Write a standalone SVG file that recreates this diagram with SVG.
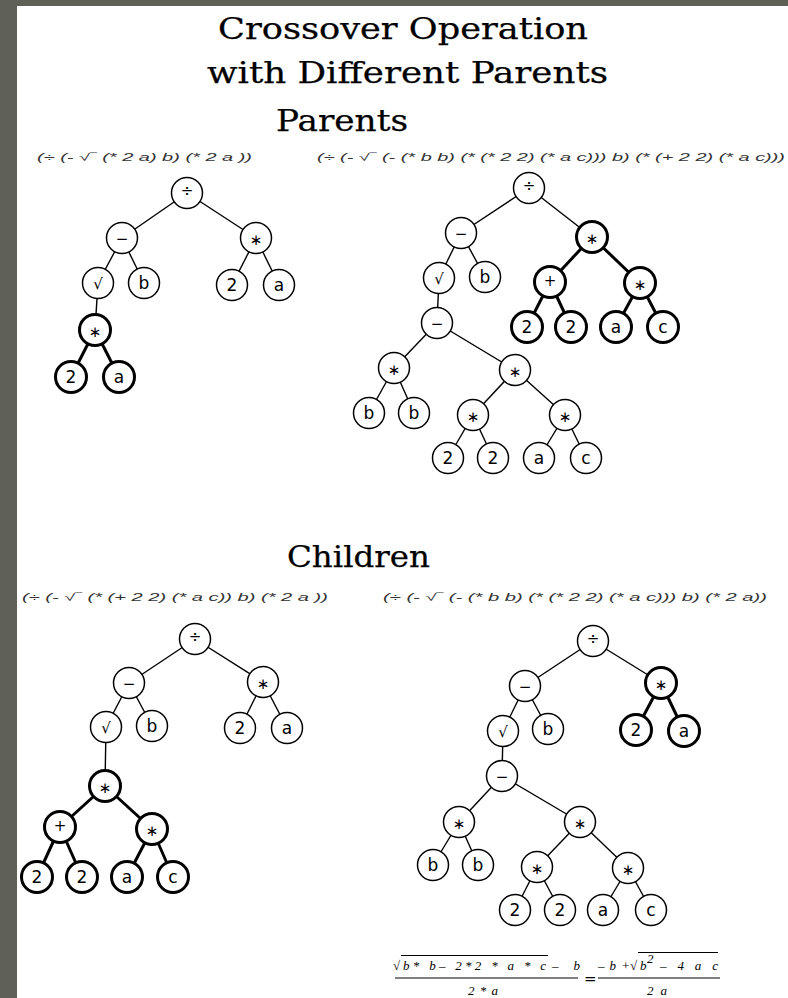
<svg xmlns="http://www.w3.org/2000/svg" width="788" height="998" viewBox="0 0 788 998">
<style>
.e{stroke:#000;stroke-width:1.4;fill:none}
.eb{stroke:#000;stroke-width:3;fill:none}
.n circle{fill:#fff;stroke:#000;stroke-width:1.5}
.b circle{stroke-width:3}
.n text{font-family:"DejaVu Sans",sans-serif;font-size:17px;text-anchor:middle;fill:#000}
.n text.o{font-size:15px}
.t{font-family:"DejaVu Serif","Liberation Serif",serif;font-size:29px;fill:#000;stroke:#000;stroke-width:0.25}
.f{font-family:"Liberation Sans",sans-serif;font-style:italic;font-size:10px;fill:#333}
.q{font-family:"Liberation Serif",serif;font-style:italic;font-size:13px;fill:#000}
</style>
<rect x="0" y="0" width="788" height="998" fill="#fff"/>
<rect x="0" y="0" width="788" height="6" fill="#5f6156"/>
<rect x="0" y="0" width="17" height="998" fill="#5f6156"/>

<g id="titles">
<text class="t" x="218" y="39" textLength="370" lengthAdjust="spacingAndGlyphs">Crossover Operation</text>
<text class="t" x="207" y="83" textLength="401" lengthAdjust="spacingAndGlyphs">with Different Parents</text>
<text class="t" x="276" y="131" textLength="132" lengthAdjust="spacingAndGlyphs">Parents</text>
<text class="t" x="287" y="567" textLength="143" lengthAdjust="spacingAndGlyphs">Children</text>
</g>

<g id="expressions">
<text class="f" x="37" y="161" textLength="215" lengthAdjust="spacingAndGlyphs">(÷ (- √‾ (* 2 a) b) (* 2 a ))</text>
<text class="f" x="317" y="161" textLength="468" lengthAdjust="spacingAndGlyphs">(÷ (- √‾ (- (* b b) (* (* 2 2) (* a c))) b) (* (+ 2 2) (* a c)))</text>
<text class="f" x="22" y="601" textLength="306" lengthAdjust="spacingAndGlyphs">(÷ (- √‾ (* (+ 2 2) (* a c)) b) (* 2 a ))</text>
<text class="f" x="383" y="601" textLength="384" lengthAdjust="spacingAndGlyphs">(÷ (- √‾ (- (* b b) (* (* 2 2) (* a c))) b) (* 2 a))</text>
</g>

<g id="connectors">
<!-- parent 1 -->
<line class="e" x1="187" y1="193" x2="122" y2="238"/>
<line class="e" x1="187" y1="193" x2="256" y2="238"/>
<line class="e" x1="122" y1="238" x2="98" y2="283"/>
<line class="e" x1="122" y1="238" x2="144" y2="283"/>
<line class="e" x1="256" y1="238" x2="232" y2="285"/>
<line class="e" x1="256" y1="238" x2="279" y2="285"/>
<line class="e" x1="98" y1="283" x2="95" y2="330"/>
<line class="eb" x1="95" y1="330" x2="71" y2="377"/>
<line class="eb" x1="95" y1="330" x2="119" y2="377"/>
<!-- parent 2 -->
<line class="e" x1="529" y1="188" x2="461" y2="233"/>
<line class="e" x1="529" y1="188" x2="592" y2="237"/>
<line class="e" x1="461" y1="233" x2="439" y2="278"/>
<line class="e" x1="461" y1="233" x2="485" y2="277"/>
<line class="eb" x1="592" y1="237" x2="550" y2="282"/>
<line class="eb" x1="592" y1="237" x2="640" y2="283"/>
<line class="eb" x1="550" y1="282" x2="527" y2="327"/>
<line class="eb" x1="550" y1="282" x2="571" y2="327"/>
<line class="eb" x1="640" y1="283" x2="616" y2="327"/>
<line class="eb" x1="640" y1="283" x2="663" y2="327"/>
<line class="e" x1="439" y1="278" x2="437" y2="323"/>
<line class="e" x1="437" y1="323" x2="394" y2="368"/>
<line class="e" x1="437" y1="323" x2="515" y2="370"/>
<line class="e" x1="394" y1="368" x2="369" y2="413"/>
<line class="e" x1="394" y1="368" x2="414" y2="413"/>
<line class="e" x1="515" y1="370" x2="473" y2="415"/>
<line class="e" x1="515" y1="370" x2="565" y2="415"/>
<line class="e" x1="473" y1="415" x2="448" y2="458"/>
<line class="e" x1="473" y1="415" x2="493" y2="458"/>
<line class="e" x1="565" y1="415" x2="539" y2="458"/>
<line class="e" x1="565" y1="415" x2="586" y2="458"/>
<!-- child 1 -->
<line class="e" x1="195" y1="639" x2="129" y2="683"/>
<line class="e" x1="195" y1="639" x2="263" y2="682"/>
<line class="e" x1="129" y1="683" x2="106" y2="727"/>
<line class="e" x1="129" y1="683" x2="152" y2="726"/>
<line class="e" x1="263" y1="682" x2="240" y2="728"/>
<line class="e" x1="263" y1="682" x2="287" y2="728"/>
<line class="e" x1="106" y1="727" x2="105" y2="786"/>
<line class="eb" x1="105" y1="786" x2="60" y2="827"/>
<line class="eb" x1="105" y1="786" x2="152" y2="829"/>
<line class="eb" x1="60" y1="827" x2="37" y2="877"/>
<line class="eb" x1="60" y1="827" x2="82" y2="877"/>
<line class="eb" x1="152" y1="829" x2="127" y2="877"/>
<line class="eb" x1="152" y1="829" x2="173" y2="877"/>
<!-- child 2 -->
<line class="e" x1="593" y1="641" x2="525" y2="686"/>
<line class="e" x1="593" y1="641" x2="661" y2="683"/>
<line class="e" x1="525" y1="686" x2="503" y2="731"/>
<line class="e" x1="525" y1="686" x2="548" y2="729"/>
<line class="eb" x1="661" y1="683" x2="636" y2="730"/>
<line class="eb" x1="661" y1="683" x2="684" y2="731"/>
<line class="e" x1="503" y1="731" x2="502" y2="776"/>
<line class="e" x1="502" y1="776" x2="459" y2="822"/>
<line class="e" x1="502" y1="776" x2="580" y2="822"/>
<line class="e" x1="459" y1="822" x2="433" y2="865"/>
<line class="e" x1="459" y1="822" x2="478" y2="865"/>
<line class="e" x1="580" y1="822" x2="537" y2="867"/>
<line class="e" x1="580" y1="822" x2="628" y2="868"/>
<line class="e" x1="537" y1="867" x2="515" y2="910"/>
<line class="e" x1="537" y1="867" x2="560" y2="910"/>
<line class="e" x1="628" y1="868" x2="603" y2="910"/>
<line class="e" x1="628" y1="868" x2="651" y2="910"/>
</g>

<!-- parent 1 nodes -->
<g id="p1_div" class="n"><circle cx="187" cy="193" r="15.5"/><text class="o" x="187" y="196">÷</text></g>
<g id="p1_sub" class="n"><circle cx="122" cy="238" r="15.5"/><text class="o" x="122" y="244">−</text></g>
<g id="p1_mul" class="n"><circle cx="256" cy="238" r="15.5"/><text class="o" x="256" y="245">∗</text></g>
<g id="p1_sqrt" class="n"><circle cx="98" cy="283" r="15.5"/><text class="o" x="98" y="289">√</text></g>
<g id="p1_b" class="n"><circle cx="144" cy="283" r="15.5"/><text x="144" y="289">b</text></g>
<g id="p1_2" class="n"><circle cx="232" cy="285" r="15.5"/><text x="232" y="291">2</text></g>
<g id="p1_a" class="n"><circle cx="279" cy="285" r="15.5"/><text x="279" y="291">a</text></g>
<g id="p1_mulB" class="n b"><circle cx="95" cy="330" r="15.5"/><text class="o" x="95" y="337">∗</text></g>
<g id="p1_2B" class="n b"><circle cx="71" cy="377" r="15.5"/><text x="71" y="383">2</text></g>
<g id="p1_aB" class="n b"><circle cx="119" cy="377" r="15.5"/><text x="119" y="383">a</text></g>

<!-- parent 2 nodes -->
<g id="p2_div" class="n"><circle cx="529" cy="188" r="15.5"/><text class="o" x="529" y="191">÷</text></g>
<g id="p2_sub" class="n"><circle cx="461" cy="233" r="15.5"/><text class="o" x="461" y="239">−</text></g>
<g id="p2_mulB" class="n b"><circle cx="592" cy="237" r="15.5"/><text class="o" x="592" y="244">∗</text></g>
<g id="p2_sqrt" class="n"><circle cx="439" cy="278" r="15.5"/><text class="o" x="439" y="284">√</text></g>
<g id="p2_b" class="n"><circle cx="485" cy="277" r="15.5"/><text x="485" y="283">b</text></g>
<g id="p2_plusB" class="n b"><circle cx="550" cy="282" r="15.5"/><text class="o" x="550" y="286">+</text></g>
<g id="p2_mulB2" class="n b"><circle cx="640" cy="283" r="15.5"/><text class="o" x="640" y="290">∗</text></g>
<g id="p2_2B1" class="n b"><circle cx="527" cy="327" r="15.5"/><text x="527" y="333">2</text></g>
<g id="p2_2B2" class="n b"><circle cx="571" cy="327" r="15.5"/><text x="571" y="333">2</text></g>
<g id="p2_aB" class="n b"><circle cx="616" cy="327" r="15.5"/><text x="616" y="333">a</text></g>
<g id="p2_cB" class="n b"><circle cx="663" cy="327" r="15.5"/><text x="663" y="333">c</text></g>
<g id="p2_sub2" class="n"><circle cx="437" cy="323" r="15.5"/><text class="o" x="437" y="329">−</text></g>
<g id="p2_mul1" class="n"><circle cx="394" cy="368" r="15.5"/><text class="o" x="394" y="375">∗</text></g>
<g id="p2_mul2" class="n"><circle cx="515" cy="370" r="15.5"/><text class="o" x="515" y="377">∗</text></g>
<g id="p2_b1" class="n"><circle cx="369" cy="413" r="15.5"/><text x="369" y="419">b</text></g>
<g id="p2_b2" class="n"><circle cx="414" cy="413" r="15.5"/><text x="414" y="419">b</text></g>
<g id="p2_mul3" class="n"><circle cx="473" cy="415" r="15.5"/><text class="o" x="473" y="422">∗</text></g>
<g id="p2_mul4" class="n"><circle cx="565" cy="415" r="15.5"/><text class="o" x="565" y="422">∗</text></g>
<g id="p2_2a" class="n"><circle cx="448" cy="458" r="15.5"/><text x="448" y="464">2</text></g>
<g id="p2_2b" class="n"><circle cx="493" cy="458" r="15.5"/><text x="493" y="464">2</text></g>
<g id="p2_a" class="n"><circle cx="539" cy="458" r="15.5"/><text x="539" y="464">a</text></g>
<g id="p2_c" class="n"><circle cx="586" cy="458" r="15.5"/><text x="586" y="464">c</text></g>

<!-- child 1 nodes -->
<g id="c1_div" class="n"><circle cx="195" cy="639" r="15.5"/><text class="o" x="195" y="642">÷</text></g>
<g id="c1_sub" class="n"><circle cx="129" cy="683" r="15.5"/><text class="o" x="129" y="689">−</text></g>
<g id="c1_mul" class="n"><circle cx="263" cy="682" r="15.5"/><text class="o" x="263" y="689">∗</text></g>
<g id="c1_sqrt" class="n"><circle cx="106" cy="727" r="15.5"/><text class="o" x="106" y="733">√</text></g>
<g id="c1_b" class="n"><circle cx="152" cy="726" r="15.5"/><text x="152" y="732">b</text></g>
<g id="c1_2" class="n"><circle cx="240" cy="728" r="15.5"/><text x="240" y="734">2</text></g>
<g id="c1_a" class="n"><circle cx="287" cy="728" r="15.5"/><text x="287" y="734">a</text></g>
<g id="c1_mulB" class="n b"><circle cx="105" cy="786" r="15.5"/><text class="o" x="105" y="793">∗</text></g>
<g id="c1_plusB" class="n b"><circle cx="60" cy="827" r="15.5"/><text class="o" x="60" y="831">+</text></g>
<g id="c1_mulB2" class="n b"><circle cx="152" cy="829" r="15.5"/><text class="o" x="152" y="836">∗</text></g>
<g id="c1_2B1" class="n b"><circle cx="37" cy="877" r="15.5"/><text x="37" y="883">2</text></g>
<g id="c1_2B2" class="n b"><circle cx="82" cy="877" r="15.5"/><text x="82" y="883">2</text></g>
<g id="c1_aB" class="n b"><circle cx="127" cy="877" r="15.5"/><text x="127" y="883">a</text></g>
<g id="c1_cB" class="n b"><circle cx="173" cy="877" r="15.5"/><text x="173" y="883">c</text></g>

<!-- child 2 nodes -->
<g id="c2_div" class="n"><circle cx="593" cy="641" r="15.5"/><text class="o" x="593" y="644">÷</text></g>
<g id="c2_sub" class="n"><circle cx="525" cy="686" r="15.5"/><text class="o" x="525" y="692">−</text></g>
<g id="c2_mulB" class="n b"><circle cx="661" cy="683" r="15.5"/><text class="o" x="661" y="690">∗</text></g>
<g id="c2_sqrt" class="n"><circle cx="503" cy="731" r="15.5"/><text class="o" x="503" y="737">√</text></g>
<g id="c2_b" class="n"><circle cx="548" cy="729" r="15.5"/><text x="548" y="735">b</text></g>
<g id="c2_2B" class="n b"><circle cx="636" cy="730" r="15.5"/><text x="636" y="736">2</text></g>
<g id="c2_aB" class="n b"><circle cx="684" cy="731" r="15.5"/><text x="684" y="737">a</text></g>
<g id="c2_sub2" class="n"><circle cx="502" cy="776" r="15.5"/><text class="o" x="502" y="782">−</text></g>
<g id="c2_mul1" class="n"><circle cx="459" cy="822" r="15.5"/><text class="o" x="459" y="829">∗</text></g>
<g id="c2_mul2" class="n"><circle cx="580" cy="822" r="15.5"/><text class="o" x="580" y="829">∗</text></g>
<g id="c2_b1" class="n"><circle cx="433" cy="865" r="15.5"/><text x="433" y="871">b</text></g>
<g id="c2_b2" class="n"><circle cx="478" cy="865" r="15.5"/><text x="478" y="871">b</text></g>
<g id="c2_mul3" class="n"><circle cx="537" cy="867" r="15.5"/><text class="o" x="537" y="874">∗</text></g>
<g id="c2_mul4" class="n"><circle cx="628" cy="868" r="15.5"/><text class="o" x="628" y="875">∗</text></g>
<g id="c2_2a" class="n"><circle cx="515" cy="910" r="15.5"/><text x="515" y="916">2</text></g>
<g id="c2_2b" class="n"><circle cx="560" cy="910" r="15.5"/><text x="560" y="916">2</text></g>
<g id="c2_a" class="n"><circle cx="603" cy="910" r="15.5"/><text x="603" y="916">a</text></g>
<g id="c2_c" class="n"><circle cx="651" cy="910" r="15.5"/><text x="651" y="916">c</text></g>

<g id="equation">
<text class="q" x="393" y="970" font-style="normal">√</text>
<line x1="401" y1="955.5" x2="548" y2="955.5" stroke="#000" stroke-width="1"/>
<text class="q" x="403" y="970" textLength="143" lengthAdjust="spacing">b* b– 2*2 * a * c</text>
<text class="q" x="552" y="970" textLength="28" lengthAdjust="spacing">– b</text>
<line x1="395" y1="978" x2="578" y2="978" stroke="#000" stroke-width="1.2"/>
<text class="q" x="468" y="995" textLength="30" lengthAdjust="spacing">2 * a</text>
<text x="584" y="984" font-family="DejaVu Sans, sans-serif" font-size="15">=</text>
<text class="q" x="598" y="970" textLength="32" lengthAdjust="spacing">– b +</text>
<text class="q" x="630" y="970" font-style="normal">√</text>
<line x1="638" y1="952.5" x2="718" y2="952.5" stroke="#000" stroke-width="1"/>
<text class="q" x="640" y="970">b</text>
<text class="q" x="647" y="963" font-size="8">2</text>
<text class="q" x="660" y="970" textLength="58" lengthAdjust="spacing">– 4 a c</text>
<line x1="598" y1="978" x2="720" y2="978" stroke="#000" stroke-width="1.2"/>
<text class="q" x="647" y="995" textLength="20" lengthAdjust="spacing">2 a</text>
</g>
</svg>
